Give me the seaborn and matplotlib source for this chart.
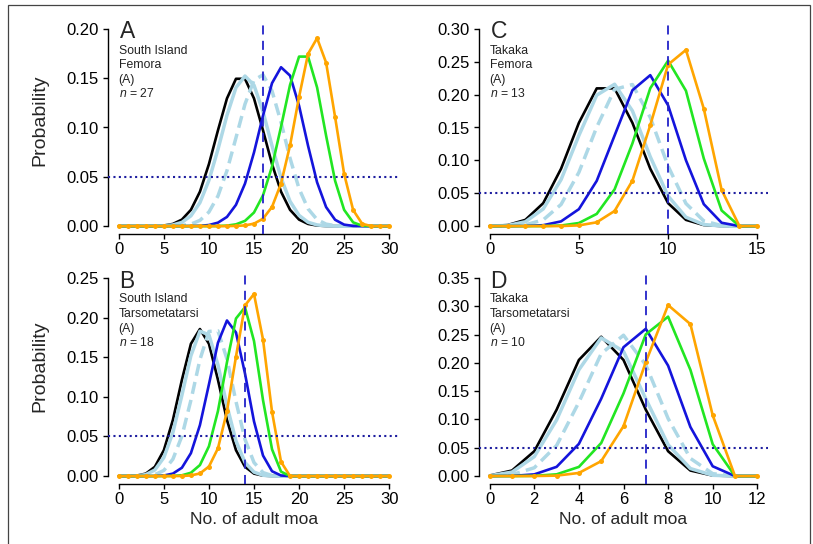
import matplotlib
matplotlib.use("Agg")
import matplotlib.pyplot as plt
import seaborn as sns
import pandas as pd
from matplotlib.patches import Rectangle

# ------------------------------------------------------------------ data
# Panel A: South Island Femora (n = 27), x = 0..30
x_A = list(range(0, 31))
A_black = [0, 0, 0, 0, 0.0001, 0.0006, 0.0022, 0.0066, 0.0165, 0.0349, 0.0629, 0.0971, 0.1295, 0.1494, 0.1494,
           0.1295, 0.0971, 0.0629, 0.0349, 0.0165, 0.0066, 0.0022, 0.0006, 0.0001, 0, 0, 0, 0, 0, 0, 0]
A_lblue = [0, 0, 0, 0, 0.0001, 0.0003, 0.0012, 0.0038, 0.0104, 0.0238, 0.0465, 0.0778, 0.1124, 0.1405, 0.1522,
           0.1429, 0.1161, 0.0814, 0.0490, 0.0251, 0.0109, 0.0039, 0.0012, 0.0003, 0, 0, 0, 0, 0, 0, 0]
A_lblue_d = [0, 0, 0, 0, 0, 0, 0.0001, 0.0006, 0.0020, 0.0058, 0.0143, 0.0305, 0.0562, 0.0896, 0.1237,
             0.1481, 0.1534, 0.1371, 0.1052, 0.0688, 0.0380, 0.0175, 0.0066, 0.0020, 0.0005, 0.0001, 0, 0, 0, 0, 0]
A_blue = [0, 0, 0, 0, 0, 0, 0, 0, 0.0001, 0.0003, 0.0011, 0.0035, 0.0093, 0.0216, 0.0431,
          0.0747, 0.1121, 0.1450, 0.1611, 0.1526, 0.1221, 0.0814, 0.0444, 0.0193, 0.0064, 0.0015, 0.0002, 0, 0, 0, 0]
A_green = [0, 0, 0, 0, 0, 0, 0, 0, 0, 0, 0, 0.0001, 0.0005, 0.0018, 0.0053,
           0.0138, 0.0312, 0.0605, 0.1008, 0.1432, 0.1719, 0.1719, 0.1406, 0.0917, 0.0459, 0.0165, 0.0038, 0.0004, 0, 0, 0]
A_orange = [0, 0, 0, 0, 0, 0, 0, 0, 0, 0, 0, 0, 0, 0.0002, 0.0007,
            0.0025, 0.0075, 0.0195, 0.0432, 0.0819, 0.1310, 0.1747, 0.1906, 0.1658, 0.1105, 0.0530, 0.0163, 0.0024, 0, 0, 0]

# Panel B: South Island Tarsometatarsi (n = 18), x = 0..30
x_B = list(range(0, 31))
B_black = [0, 0.0001, 0.0006, 0.0031, 0.0117, 0.0327, 0.0708, 0.1214, 0.1669, 0.1855, 0.1669, 0.1214, 0.0708,
           0.0327, 0.0117, 0.0031, 0.0006, 0.0001, 0, 0, 0, 0, 0, 0, 0, 0, 0, 0, 0, 0, 0]
B_lblue = [0, 0, 0.0003, 0.0019, 0.0077, 0.0234, 0.0549, 0.1020, 0.1519, 0.1828, 0.1782, 0.1404, 0.0887,
           0.0444, 0.0172, 0.0050, 0.0010, 0.0001, 0, 0, 0, 0, 0, 0, 0, 0, 0, 0, 0, 0, 0]
B_lblue_d = [0, 0, 0, 0.0004, 0.0018, 0.0071, 0.0213, 0.0504, 0.0957, 0.1469, 0.1825, 0.1833, 0.1477,
             0.0941, 0.0464, 0.0171, 0.0044, 0.0007, 0.0001, 0, 0, 0, 0, 0, 0, 0, 0, 0, 0, 0, 0]
B_blue = [0, 0, 0, 0, 0.0001, 0.0007, 0.0031, 0.0105, 0.0289, 0.0643, 0.1157, 0.1682, 0.1963,
          0.1812, 0.1294, 0.0690, 0.0259, 0.0061, 0.0007, 0, 0, 0, 0, 0, 0, 0, 0, 0, 0, 0, 0]
B_green = [0, 0, 0, 0, 0, 0, 0.0002, 0.0010, 0.0042, 0.0139, 0.0376, 0.0820, 0.1436,
           0.1988, 0.2130, 0.1704, 0.0958, 0.0338, 0.0056, 0, 0, 0, 0, 0, 0, 0, 0, 0, 0, 0, 0]
B_orange = [0, 0, 0, 0, 0, 0, 0, 0.0001, 0.0008, 0.0033, 0.0120, 0.0350, 0.0816,
            0.1507, 0.2153, 0.2297, 0.1723, 0.0811, 0.0180, 0, 0, 0, 0, 0, 0, 0, 0, 0, 0, 0, 0]

# Panel C: Takaka Femora (n = 13), x = 0..15
x_C = list(range(0, 16))
C_black = [0.0001, 0.0016, 0.0095, 0.0349, 0.0873, 0.1571, 0.2095, 0.2095, 0.1571, 0.0873, 0.0349, 0.0095, 0.0016, 0.0001, 0, 0]
C_lblue = [0.0001, 0.0010, 0.0066, 0.0261, 0.0707, 0.1379, 0.1992, 0.2158, 0.1753, 0.1055, 0.0457, 0.0135, 0.0024, 0.0002, 0, 0]
C_lblue_d = [0, 0.0002, 0.0019, 0.0095, 0.0329, 0.0818, 0.1506, 0.2080, 0.2154, 0.1653, 0.0913, 0.0344, 0.0079, 0.0008, 0, 0]
C_blue = [0, 0, 0.0002, 0.0014, 0.0072, 0.0258, 0.0689, 0.1378, 0.2067, 0.2296, 0.1837, 0.1002, 0.0334, 0.0051, 0, 0]
C_green = [0, 0, 0, 0.0001, 0.0009, 0.0047, 0.0186, 0.0559, 0.1258, 0.2097, 0.2517, 0.2059, 0.1029, 0.0238, 0, 0]
C_orange = [0, 0, 0, 0, 0.0001, 0.0011, 0.0058, 0.0230, 0.0691, 0.1535, 0.2457, 0.2680, 0.1787, 0.0550, 0, 0]

# Panel D: Takaka Tarsometatarsi (n = 10), x = 0..12
x_D = list(range(0, 13))
D_black = [0.0010, 0.0098, 0.0439, 0.1172, 0.2051, 0.2461, 0.2051, 0.1172, 0.0439, 0.0098, 0.0010, 0, 0]
D_lblue = [0.0006, 0.0070, 0.0343, 0.0991, 0.1878, 0.2441, 0.2204, 0.1364, 0.0554, 0.0133, 0.0014, 0, 0]
D_lblue_d = [0.0002, 0.0024, 0.0147, 0.0540, 0.1305, 0.2162, 0.2488, 0.1963, 0.1017, 0.0312, 0.0043, 0, 0]
D_blue = [0, 0.0003, 0.0030, 0.0163, 0.0569, 0.1366, 0.2276, 0.2601, 0.1951, 0.0867, 0.0173, 0, 0]
D_green = [0, 0, 0.0004, 0.0031, 0.0162, 0.0584, 0.1460, 0.2503, 0.2816, 0.1877, 0.0563, 0, 0]
D_orange = [0, 0, 0.0001, 0.0008, 0.0055, 0.0264, 0.0881, 0.2013, 0.3020, 0.2684, 0.1074, 0, 0]

# reference lines
vline_A, vline_B, vline_C, vline_D = 16, 14, 10, 7
hline_level = 0.05

# ticks / labels
xticks_AB = [0, 5, 10, 15, 20, 25, 30]
xticks_C = [0, 5, 10, 15]
xticks_D = [0, 2, 4, 6, 8, 10, 12]
yticks_A = ["0.00", "0.05", "0.10", "0.15", "0.20"]
yticks_B = ["0.00", "0.05", "0.10", "0.15", "0.20", "0.25"]
yticks_C = ["0.00", "0.05", "0.10", "0.15", "0.20", "0.25", "0.30"]
yticks_D = ["0.00", "0.05", "0.10", "0.15", "0.20", "0.25", "0.30", "0.35"]

letters = ["A", "B", "C", "D"]
site_lines = [["South Island", "Femora", "(A)", "$n$ = 27"],
              ["South Island", "Tarsometatarsi", "(A)", "$n$ = 18"],
              ["Takaka", "Femora", "(A)", "$n$ = 13"],
              ["Takaka", "Tarsometatarsi", "(A)", "$n$ = 10"]]
xlabel_text = "No. of adult moa"
ylabel_text = "Probability"

# ------------------------------------------------------------------ style
sns.set_style("ticks")
plt.rcParams["font.family"] = ["Liberation Sans", "DejaVu Sans"]
plt.rcParams["mathtext.fontset"] = "custom"
plt.rcParams["mathtext.it"] = "Liberation Sans:italic"
plt.rcParams["mathtext.rm"] = "Liberation Sans"

curve_styles = [
    dict(color="#000000", lw=1.9, ls="-"),
    dict(color="#ADD8E6", lw=2.5, ls="-"),
    dict(color="#ADD8E6", lw=2.5, ls=(0, (3.5, 1.8))),
    dict(color="#1414DC", lw=1.9, ls="-"),
    dict(color="#22E622", lw=1.9, ls="-"),
    dict(color="#FFA500", lw=1.9, ls="-"),
]

W, H = 813, 544
fig = plt.figure(figsize=(W / 100, H / 100), dpi=100)
fig.patch.set_facecolor("white")


def box(l, t, r, b):
    return [l / W, 1 - b / H, (r - l) / W, (b - t) / H]


panels = [
    dict(box=box(108, 21, 400, 234), x=x_A, ys=[A_black, A_lblue, A_lblue_d, A_blue, A_green, A_orange],
         xt=xticks_AB, yt=yticks_A, vline=vline_A),
    dict(box=box(108, 270, 400, 484), x=x_B, ys=[B_black, B_lblue, B_lblue_d, B_blue, B_green, B_orange],
         xt=xticks_AB, yt=yticks_B, vline=vline_B),
    dict(box=box(479, 21, 768, 234), x=x_C, ys=[C_black, C_lblue, C_lblue_d, C_blue, C_green, C_orange],
         xt=xticks_C, yt=yticks_C, vline=vline_C),
    dict(box=box(479, 270, 768, 484), x=x_D, ys=[D_black, D_lblue, D_lblue_d, D_blue, D_green, D_orange],
         xt=xticks_D, yt=yticks_D, vline=vline_D),
]

for i, p in enumerate(panels):
    ax = fig.add_axes(p["box"])
    for j, (yv, st) in enumerate(zip(p["ys"], curve_styles)):
        df = pd.DataFrame({"x": p["x"], "p": yv})
        kw = dict(color=st["color"], linewidth=st["lw"], linestyle=st["ls"], ax=ax)
        if j == 5:
            kw.update(marker="o", markersize=3.6, markeredgewidth=0, markeredgecolor=st["color"])
        sns.lineplot(data=df, x="x", y="p", **kw)
    xmax = p["xt"][-1]
    ymax = float(p["yt"][-1])
    ax.set_xlim(-0.04 * xmax, 1.04 * xmax)
    ax.set_ylim(-0.04 * ymax, 1.04 * ymax)
    ax.axvline(p["vline"], color="#2323C8", lw=1.3, ls=(0, (5, 3.5)), zorder=5)
    ax.axhline(hline_level, color="#1E1EA0", lw=1.5, ls=(0, (1, 1.6)), zorder=5)
    ax.set_xticks(p["xt"])
    ax.set_xticklabels([str(v) for v in p["xt"]])
    ax.set_yticks([float(s) for s in p["yt"]])
    ax.set_yticklabels(p["yt"])
    ax.set_xlabel("")
    ax.set_ylabel("")
    for s in ["top", "right"]:
        ax.spines[s].set_visible(False)
    ax.spines["left"].set_bounds(0, ymax)
    ax.spines["bottom"].set_bounds(0, xmax)
    for s in ["left", "bottom"]:
        ax.spines[s].set_linewidth(1.0)
        ax.spines[s].set_color("black")
    ax.tick_params(axis="both", direction="out", length=3.5, width=1.0, labelsize=12, colors="black")
    ax.tick_params(axis="x", pad=2)
    ax.tick_params(axis="y", pad=3)
    ax.set_facecolor("white")
    ax.grid(False)
    # panel letter and description
    ax.annotate(letters[i], xy=(0, 1), xycoords="axes fraction", xytext=(11.5, -17.5),
                textcoords="offset pixels", fontsize=16.5, va="baseline", ha="left")
    for k, line in enumerate(site_lines[i]):
        ax.annotate(line, xy=(0, 1), xycoords="axes fraction", xytext=(10.5, -(32.5 + 14.6 * k)),
                    textcoords="offset pixels", fontsize=8.8, va="baseline", ha="left", color="#222222")

# axis titles
fig.text(40 / W, 1 - 120 / H, ylabel_text, rotation=90, fontsize=14, ha="center", va="center")
fig.text(40 / W, 1 - 366 / H, ylabel_text, rotation=90, fontsize=14, ha="center", va="center")
fig.text(254 / W, 1 - 520 / H, xlabel_text, fontsize=12.5, ha="center", va="center")
fig.text(623 / W, 1 - 520 / H, xlabel_text, fontsize=12.5, ha="center", va="center")

# outer frame
fig.patches.append(Rectangle((8 / W, -0.05), (810 - 8) / W, 1 - 5 / H + 0.05, transform=fig.transFigure,
                             fill=False, edgecolor="#444444", linewidth=0.9, zorder=10))

fig.savefig("out.png", dpi=100, facecolor="white")
